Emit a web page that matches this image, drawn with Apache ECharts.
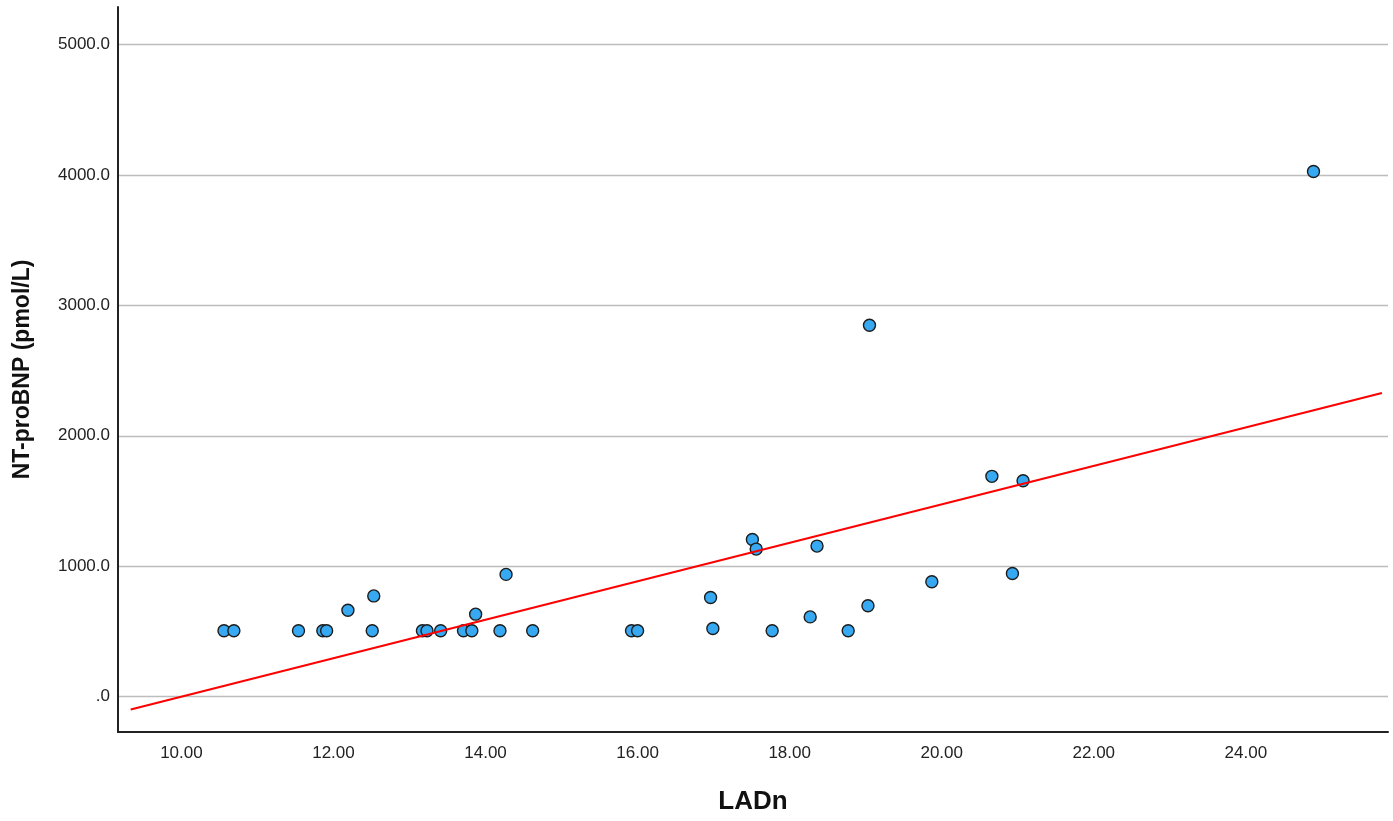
<!DOCTYPE html>
<html>
<head>
<meta charset="utf-8">
<script src="https://cdn.jsdelivr.net/npm/echarts@6/dist/echarts.min.js"></script>
<style>
html,body{margin:0;padding:0;background:#fff;}
#chart{width:1393px;height:821px;}
</style>
</head>
<body>
<div id="chart"></div>
<script>
// LADn values
var ladn = [10.56, 10.69, 11.54, 11.86, 11.91, 12.19, 12.53, 12.51, 13.17, 13.23, 13.41, 13.71, 13.82, 13.87, 14.19, 14.27, 14.62,
            15.92, 16.00, 16.96, 16.99, 17.51, 17.56, 17.77, 18.27, 18.36, 18.77, 19.03, 19.05, 19.87, 20.66, 20.93, 21.07, 24.89];
// NT-proBNP values (pmol/L)
var ntprobnp = [505, 505, 505, 505, 505, 662, 772, 505, 505, 505, 505, 505, 505, 632, 505, 937, 505,
                505, 505, 760, 522, 1205, 1131, 505, 611, 1154, 505, 696, 2848, 880, 1689, 944, 1655, 4027];
// fit line end points (x, y)
var fitX = [9.333, 25.79];
var fitY = [-100, 2328];
// tick values
var xTicks = [10, 12, 14, 16, 18, 20, 22, 24];
var yTicks = [0, 1000, 2000, 3000, 4000, 5000];

var points = ladn.map(function (v, i) { return [v, ntprobnp[i]]; });
var fitLine = fitX.map(function (v, i) { return [v, fitY[i]]; });

var chart = echarts.init(document.getElementById('chart'));
chart.setOption({
  backgroundColor: '#ffffff',
  animation: false,
  grid: { left: 118, right: 5, top: 7, bottom: 89, containLabel: false },
  xAxis: {
    type: 'value',
    min: 9.166, max: 25.87,
    name: 'LADn',
    nameLocation: 'middle',
    nameGap: 57,
    nameTextStyle: { fontFamily: 'Liberation Sans, Arial', fontWeight: 'bold', fontSize: 26, color: '#111' },
    axisLine: { show: true, onZero: false, lineStyle: { color: '#222', width: 2 } },
    axisTick: { show: false, customValues: xTicks },
    axisLabel: {
      customValues: xTicks,
      margin: 13,
      fontFamily: 'Liberation Sans, Arial', fontSize: 17, color: '#222',
      formatter: function (v) { return v.toFixed(2); }
    },
    splitLine: { show: false }
  },
  yAxis: {
    type: 'value',
    min: -272, max: 5289,
    name: 'NT-proBNP (pmol/L)',
    nameLocation: 'middle',
    nameGap: 84,
    nameTextStyle: { fontFamily: 'Liberation Sans, Arial', fontWeight: 'bold', fontSize: 23, color: '#111' },
    axisLine: { show: true, onZero: false, lineStyle: { color: '#222', width: 2 } },
    axisTick: { show: false, customValues: yTicks },
    axisLabel: {
      customValues: yTicks,
      margin: 8,
      fontFamily: 'Liberation Sans, Arial', fontSize: 17, color: '#222',
      formatter: function (v) { return v === 0 ? '.0' : v.toFixed(1); }
    },
    splitLine: { show: true, lineStyle: { color: '#bdbdbd', width: 1.3 } }
  },
  series: [
    {
      type: 'line',
      data: fitLine,
      symbol: 'none',
      lineStyle: { color: '#ff0000', width: 2 },
      z: 3
    },
    {
      type: 'scatter',
      data: points,
      symbol: 'circle',
      symbolSize: 12,
      itemStyle: { color: '#36a9f2', borderColor: '#1c1c1c', borderWidth: 1.4, opacity: 1 },
      z: 2
    }
  ]
});
</script>
</body>
</html>
